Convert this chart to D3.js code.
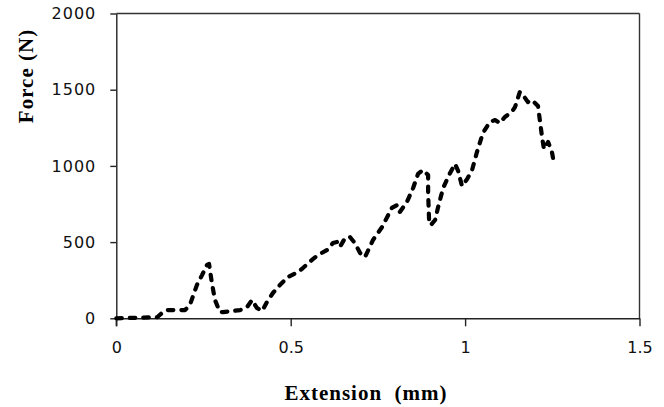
<html>
<script src="https://d3js.org/d3.v7.min.js"></script>
<style>
    body { margin: 0; background: #fff; }
</style>

<body>
    <script>
        var width = 664;
        var height = 407;

        // values
        var extension = [0, 0.117, 0.134, 0.145, 0.168, 0.197, 0.211, 0.231, 0.246, 0.260, 0.266, 0.274, 0.283, 0.297,
            0.306, 0.355, 0.375, 0.389, 0.403, 0.418, 0.432, 0.449, 0.469, 0.492, 0.521, 0.535, 0.561, 0.578, 0.604,
            0.621, 0.633, 0.641, 0.656, 0.670, 0.684, 0.699, 0.713, 0.736, 0.762, 0.790, 0.805, 0.813, 0.833, 0.851,
            0.865, 0.879, 0.894, 0.894, 0.897, 0.902, 0.914, 0.922, 0.937, 0.954, 0.971, 0.980, 0.991, 1.006, 1.020,
            1.034, 1.051, 1.071, 1.086, 1.100, 1.114, 1.134, 1.143, 1.157, 1.166, 1.180, 1.192, 1.209, 1.215, 1.221,
            1.226, 1.238, 1.249, 1.252];
        var force = [0, 7, 41, 54, 54, 54, 87, 218, 284, 350, 356, 232, 120, 41,
            41, 54, 74, 120, 68, 48, 107, 166, 218, 271, 304, 330, 383, 415, 448,
            494, 501, 468, 527, 533, 494, 428, 402, 514, 599, 724, 743, 698, 763, 855,
            947, 973, 940, 822, 625, 612, 645, 724, 855, 940, 1013, 967, 868, 914, 973,
            1091, 1216, 1288, 1301, 1281, 1321, 1354, 1386, 1485, 1465, 1419, 1432, 1393, 1288, 1183,
            1111, 1157, 1091, 1052];
        var xTicks = [0, 0.5, 1, 1.5];
        var yTicks = [0, 500, 1000, 1500, 2000];

        var margin = { top: 13.5, right: 24.5, bottom: 88.7, left: 116.3 };
        var w = width - margin.left - margin.right;
        var h = height - margin.top - margin.bottom;

        var svg = d3.select("body").append("svg")
            .attr("width", width)
            .attr("height", height);

        var vis = svg.append("g").attr("transform", `translate(${margin.left},${margin.top})`);

        var x = d3.scaleLinear().domain([0, 1.5]).range([0, w]);
        var y = d3.scaleLinear().domain([0, 2000]).range([h, 0]);

        // frame: top and right edges
        vis.append("line")
            .attr("x1", 0).attr("x2", w).attr("y1", 0).attr("y2", 0)
            .attr("stroke", "#333").attr("stroke-width", 1.4);
        vis.append("line")
            .attr("x1", w).attr("x2", w).attr("y1", 0).attr("y2", h)
            .attr("stroke", "#333").attr("stroke-width", 1.4);

        var xAxis = vis.append("g")
            .attr("transform", `translate(0,${h})`)
            .call(d3.axisBottom(x).tickValues(xTicks).tickSize(8).tickSizeOuter(0).tickPadding(15)
                .tickFormat(d => d));
        var yAxis = vis.append("g")
            .call(d3.axisLeft(y).tickValues(yTicks).tickSize(6).tickSizeOuter(0).tickPadding(14)
                .tickFormat(d => d));

        [xAxis, yAxis].forEach(a => {
            a.attr("font-family", "'DejaVu Sans', sans-serif");
            a.select(".domain").attr("stroke", "#222").attr("stroke-width", 1.4);
            a.selectAll(".tick line").attr("stroke", "#222").attr("stroke-width", 1.4);
            a.selectAll(".tick text")
                .attr("fill", "#111")
                .style("font-family", "'DejaVu Sans', sans-serif")
                .style("font-size", "16px");
        });
        yAxis.selectAll(".tick text").style("letter-spacing", "1px");
        // y axis extends below the baseline a little, like the original
        vis.append("line")
            .attr("x1", 0).attr("x2", 0).attr("y1", h).attr("y2", h + 8)
            .attr("stroke", "#222").attr("stroke-width", 1.4);

        var line = d3.line()
            .x((d, i) => x(extension[i]))
            .y((d, i) => y(force[i]));

        vis.append("path")
            .datum(force)
            .attr("fill", "none")
            .attr("stroke", "#000")
            .attr("stroke-width", 4.2)
            .attr("stroke-dasharray", "5.5,8")
            .attr("stroke-linecap", "round")
            .attr("stroke-linejoin", "round")
            .attr("d", line);

        svg.append("text")
            .attr("x", 366)
            .attr("y", 400)
            .attr("text-anchor", "middle")
            .style("font-family", "'Liberation Serif', 'Times New Roman', serif")
            .style("font-weight", "bold")
            .style("font-size", "21px")
            .style("letter-spacing", "1px")
            .style("white-space", "pre")
            .text("Extension  (mm)");

        svg.append("text")
            .attr("transform", "translate(33,76) rotate(-90)")
            .attr("text-anchor", "middle")
            .style("font-family", "'Liberation Serif', 'Times New Roman', serif")
            .style("font-weight", "bold")
            .style("font-size", "21px")
            .style("letter-spacing", "1px")
            .style("white-space", "pre")
            .text("Force (N)");
    </script>
</body>

</html>
